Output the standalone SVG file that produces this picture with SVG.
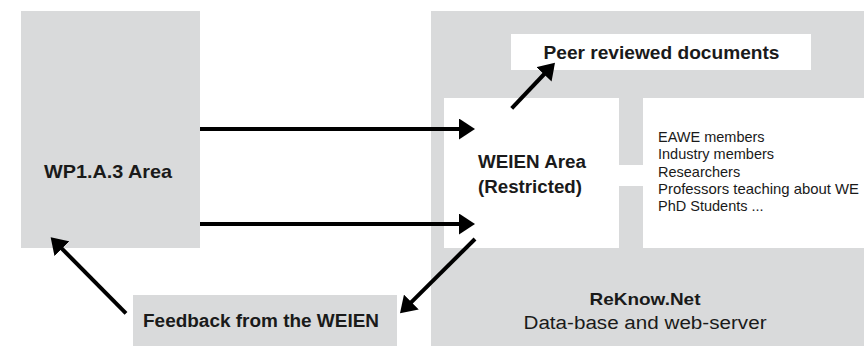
<svg xmlns="http://www.w3.org/2000/svg" width="864" height="347" viewBox="0 0 864 347">
  <defs>
    <marker id="head" markerUnits="userSpaceOnUse" markerWidth="16" markerHeight="21" refX="6" refY="10.5" orient="auto" viewBox="0 0 16 21">
      <path d="M0,0 L16,10.5 L0,21 Z" fill="#000"/>
    </marker>
    <style>
      .grey { fill: #d9dadb; }
      .white { fill: #ffffff; }
      .t { font-family: "Liberation Sans", Arial, sans-serif; fill: #1a1a1a; }
      .b { font-weight: bold; }
      .list { font-size: 14.5px; }
      .arrow { stroke: #000; stroke-width: 4; fill: none; marker-end: url(#head); }
    </style>
  </defs>

  <rect width="864" height="347" fill="#ffffff"/>

  <g id="wp1a3">
    <rect class="grey" x="21" y="11" width="179" height="237"/>
    <text class="t b" x="44" y="178" font-size="19" textLength="128" lengthAdjust="spacingAndGlyphs">WP1.A.3 Area</text>
  </g>

  <g id="reknow">
    <rect class="grey" x="431" y="11" width="440" height="335"/>
    <text class="t b" x="645" y="305" font-size="17" text-anchor="middle" textLength="111" lengthAdjust="spacingAndGlyphs">ReKnow.Net</text>
    <text class="t" x="645" y="329" font-size="18" text-anchor="middle" textLength="243" lengthAdjust="spacingAndGlyphs">Data-base and web-server</text>
  </g>

  <g id="peer">
    <rect class="white" x="511" y="34" width="300" height="36"/>
    <text class="t b" x="543.5" y="59" font-size="18" textLength="236" lengthAdjust="spacingAndGlyphs">Peer reviewed documents</text>
  </g>

  <g id="weien">
    <rect class="white" x="444" y="98" width="175" height="150"/>
    <rect class="white" x="617" y="165" width="28" height="21"/>
    <text class="t b" x="478" y="168" font-size="18" textLength="108" lengthAdjust="spacingAndGlyphs">WEIEN Area</text>
    <text class="t b" x="478" y="193" font-size="18" textLength="104" lengthAdjust="spacingAndGlyphs">(Restricted)</text>
  </g>

  <g id="members">
    <rect class="white" x="643" y="98" width="230" height="150"/>
    <text class="t list" x="658" y="141.5">EAWE members</text>
    <text class="t list" x="658" y="159">Industry members</text>
    <text class="t list" x="658" y="176.5">Researchers</text>
    <text class="t list" x="658" y="194" textLength="201" lengthAdjust="spacingAndGlyphs">Professors teaching about WE</text>
    <text class="t list" x="658" y="211">PhD Students ...</text>
  </g>

  <g id="feedback">
    <rect class="grey" x="133" y="295" width="264" height="51"/>
    <text class="t b" x="143" y="326.5" font-size="18" textLength="236" lengthAdjust="spacingAndGlyphs">Feedback from the WEIEN</text>
  </g>

  <g id="connectors">
    <line class="arrow" x1="200" y1="129" x2="465" y2="129"/>
    <line class="arrow" x1="200" y1="224" x2="465" y2="224"/>
    <line class="arrow" x1="511.7" y1="108.3" x2="548.1" y2="70"/>
    <line class="arrow" x1="475" y1="239" x2="407.1" y2="306.3"/>
    <line class="arrow" x1="126" y1="313.3" x2="57.7" y2="244.4"/>
  </g>
</svg>
